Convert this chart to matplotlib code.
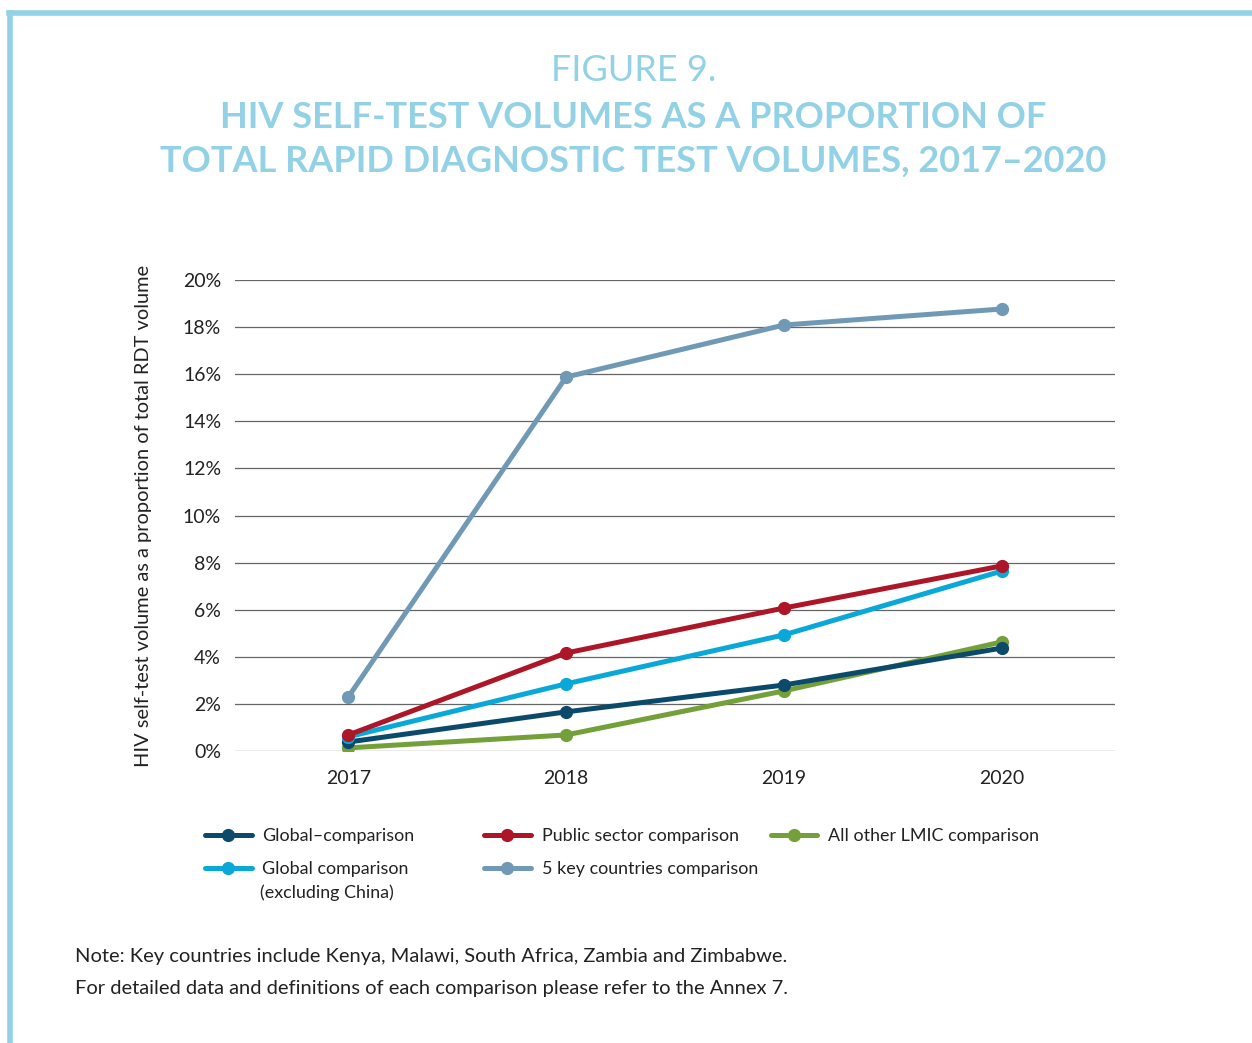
import matplotlib.pyplot as plt
from matplotlib.lines import Line2D
from matplotlib.ticker import FuncFormatter

years = ["2017", "2018", "2019", "2020"]

series_names = [
    "Global\u2013comparison",
    "Global comparison",
    "Public sector comparison",
    "5 key countries comparison",
    "All other LMIC comparison",
]
global_cmp = [0.38, 1.66, 2.80, 4.37]
global_ex_china = [0.60, 2.85, 4.93, 7.64]
public_sector = [0.68, 4.16, 6.07, 7.86]
key_countries = [2.29, 15.88, 18.09, 18.77]
other_lmic = [0.13, 0.68, 2.55, 4.63]

colors = ["#0c4a6c", "#0aa8d8", "#ad1627", "#7099b5", "#74a03a"]
yticks = [0, 2, 4, 6, 8, 10, 12, 14, 16, 18, 20]

title_color = "#93d2e6"
text_color = "#222222"
font = "Lato"

fig = plt.figure(figsize=(12.52, 10.43), dpi=100)
plt.rcParams["font.family"] = [font, "DejaVu Sans"]

# frame lines top and left
fig.add_artist(Line2D([0.007, 1.0], [0.988, 0.988], color=title_color, lw=4))
fig.add_artist(Line2D([0.008, 0.008], [0.0, 0.988], color=title_color, lw=4))

fig.text(0.506, 0.932, "FIGURE 9.", ha="center", va="center",
         fontsize=26, color=title_color, fontweight="normal")
fig.text(0.506, 0.8875, "HIV SELF-TEST VOLUMES AS A PROPORTION OF",
         ha="center", va="center", fontsize=26, color=title_color, fontweight="bold")
fig.text(0.506, 0.845, "TOTAL RAPID DIAGNOSTIC TEST VOLUMES, 2017\u20132020",
         ha="center", va="center", fontsize=26, color=title_color, fontweight="bold")

ax = fig.add_axes([0.1877, 0.28, 0.7029, 0.4515])
x = range(len(years))
data = [global_cmp, global_ex_china, public_sector, key_countries, other_lmic]
order = [3, 4, 0, 1, 2]
handles = {}
for i in order:
    (h,) = ax.plot(x, data[i], color=colors[i], lw=3.6, marker="o", ms=8.5,
                   solid_capstyle="round", zorder=3 + order.index(i))
    handles[i] = h

ax.set_xlim(-0.52, 3.52)
ax.set_ylim(0, 20)
ax.set_yticks(yticks)
ax.yaxis.set_major_formatter(FuncFormatter(lambda v, p: f"{v:.0f}%"))
ax.set_xticks(list(x))
ax.set_xticklabels(years)
ax.tick_params(length=0, labelsize=14, colors=text_color, pad=10)
ax.tick_params(axis="x", pad=14)
ax.grid(axis="y", color="#666666", lw=0.9)
ax.set_axisbelow(True)
for s in ax.spines.values():
    s.set_visible(False)
ax.set_ylabel("HIV self-test volume as a proportion of total RDT volume",
              fontsize=14.4, color=text_color, labelpad=22)

# legend in three columns
cols = [([0, 1], 0.158), ([2, 3], 0.381), ([4], 0.610)]
for idx, xpos in cols:
    fig.legend([handles[i] for i in idx], [series_names[i] for i in idx],
               loc="upper left", bbox_to_anchor=(xpos, 0.213),
               frameon=False, fontsize=12.9, handlelength=2.6,
               handletextpad=0.6, labelspacing=0.95, borderaxespad=0,
               labelcolor=text_color)
fig.text(0.2077, 0.1445, "(excluding China)", fontsize=12.9,
         color=text_color, va="center")

fig.text(0.060, 0.083,
         "Note: Key countries include Kenya, Malawi, South Africa, Zambia and Zimbabwe.",
         fontsize=14.5, color=text_color, va="center")
fig.text(0.060, 0.052,
         "For detailed data and definitions of each comparison please refer to the Annex 7.",
         fontsize=14.5, color=text_color, va="center")

fig.savefig("out.png", dpi=100)
